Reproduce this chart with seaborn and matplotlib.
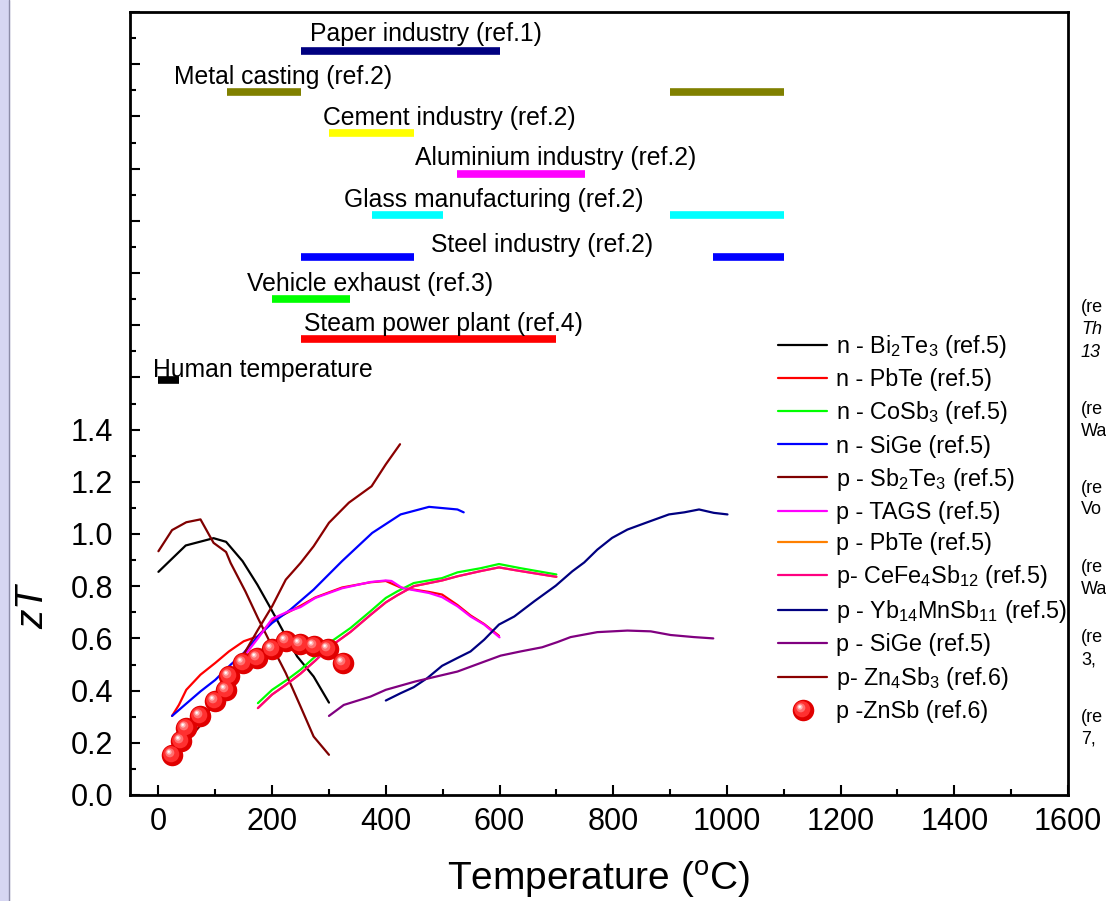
import numpy as np
import pandas as pd
import matplotlib
matplotlib.use("Agg")
import matplotlib.pyplot as plt
import seaborn as sns
from matplotlib.path import Path
from matplotlib.markers import MarkerStyle
from matplotlib.lines import Line2D
from matplotlib.legend_handler import HandlerTuple
from matplotlib.ticker import MultipleLocator, FuncFormatter

# ---------------- data ----------------
bi2te3_T = [0, 48, 97, 119, 148, 174, 197, 221, 244, 273, 300]
bi2te3_zT = [0.855, 0.956, 0.984, 0.970, 0.896, 0.806, 0.717, 0.621, 0.531, 0.454, 0.354]

npbte_T = [24, 36, 49, 74, 100, 124, 150, 175, 200, 250, 276, 323, 373, 400, 426, 476, 499, 526, 549, 573, 599]
npbte_zT = [0.303, 0.345, 0.403, 0.461, 0.506, 0.550, 0.589, 0.608, 0.668, 0.725, 0.757, 0.795, 0.815, 0.820,
            0.795, 0.778, 0.768, 0.728, 0.688, 0.655, 0.610]

cosb3_T = [175, 200, 226, 250, 276, 300, 338, 373, 400, 420, 449, 499, 526, 567, 599, 637, 700]
cosb3_zT = [0.352, 0.403, 0.441, 0.480, 0.531, 0.582, 0.640, 0.704, 0.755, 0.780, 0.812, 0.831, 0.853, 0.869,
            0.885, 0.869, 0.845]

nsige_T = [24, 50, 74, 100, 127, 150, 175, 200, 232, 273, 323, 376, 426, 476, 526, 537]
nsige_zT = [0.303, 0.352, 0.397, 0.441, 0.499, 0.544, 0.608, 0.659, 0.710, 0.787, 0.896, 1.004, 1.075, 1.104,
            1.094, 1.083]

sb2te3_T = [0, 24, 49, 74, 97, 119, 127, 153, 175, 197, 224, 250, 273, 300]
sb2te3_zT = [0.934, 1.015, 1.045, 1.056, 0.966, 0.931, 0.889, 0.780, 0.678, 0.582, 0.467, 0.339, 0.224, 0.154]

tags_T = [150, 175, 200, 225, 250, 276, 323, 373, 400, 410, 429, 476, 499, 526, 549, 573, 600]
tags_zT = [0.530, 0.600, 0.675, 0.700, 0.720, 0.755, 0.792, 0.816, 0.822, 0.820, 0.793, 0.774, 0.758, 0.723,
           0.684, 0.653, 0.604]

ppbte_T = [175, 200, 226, 250, 276, 300, 338, 373, 400, 420, 449, 499, 526, 567, 599, 637, 700]
ppbte_zT = [0.333, 0.385, 0.425, 0.465, 0.515, 0.565, 0.625, 0.690, 0.738, 0.765, 0.800, 0.822, 0.838, 0.858,
            0.872, 0.858, 0.836]

cefe_T = [175, 200, 226, 250, 276, 300, 338, 373, 400, 420, 449, 499, 526, 567, 599, 637, 700]
cefe_zT = [0.333, 0.385, 0.425, 0.465, 0.515, 0.565, 0.625, 0.690, 0.738, 0.765, 0.800, 0.822, 0.838, 0.858,
           0.872, 0.858, 0.836]

yb_T = [400, 426, 449, 473, 499, 526, 549, 573, 599, 626, 661, 699, 728, 749, 772, 798, 825, 860, 898, 925,
        951, 977, 1001]
yb_zT = [0.362, 0.390, 0.413, 0.448, 0.495, 0.525, 0.550, 0.595, 0.653, 0.684, 0.742, 0.802, 0.857, 0.891,
         0.940, 0.985, 1.017, 1.045, 1.075, 1.083, 1.094, 1.081, 1.075]

psige_T = [300, 326, 373, 400, 452, 526, 567, 602, 637, 675, 702, 725, 772, 825, 866, 901, 942, 976]
psige_zT = [0.303, 0.345, 0.377, 0.403, 0.435, 0.473, 0.506, 0.534, 0.550, 0.566, 0.586, 0.605, 0.624, 0.630,
            0.627, 0.613, 0.605, 0.600]

zn4sb3_T = [50, 77, 100, 127, 153, 175, 200, 224, 250, 273, 300, 335, 375, 400, 425]
zn4sb3_zT = [0.205, 0.275, 0.370, 0.467, 0.550, 0.633, 0.723, 0.825, 0.889, 0.953, 1.043, 1.120, 1.183, 1.267,
             1.344]

znsb_T = [24, 39, 49, 74, 99, 119, 124, 149, 174, 199, 224, 249, 273, 299, 324]
znsb_zT = [0.154, 0.207, 0.256, 0.304, 0.362, 0.403, 0.457, 0.506, 0.525, 0.559, 0.589, 0.580, 0.569, 0.559,
           0.506]

series_labels = [r"n - Bi$_2$Te$_3$ (ref.5)", "n - PbTe (ref.5)", r"n - CoSb$_3$ (ref.5)", "n - SiGe (ref.5)",
                 r"p - Sb$_2$Te$_3$ (ref.5)", "p - TAGS (ref.5)", "p - PbTe (ref.5)",
                 r"p- CeFe$_4$Sb$_{12}$ (ref.5)", r"p - Yb$_{14}$MnSb$_{11}$ (ref.5)", "p - SiGe (ref.5)",
                 r"p- Zn$_4$Sb$_3$ (ref.6)"]
ball_label = "p -ZnSb (ref.6)"

# waste heat ranges
source_names = ["Paper industry (ref.1)", "Metal casting (ref.2)", "Cement industry (ref.2)",
                "Aluminium industry (ref.2)", "Glass manufacturing (ref.2)", "Steel industry (ref.2)",
                "Vehicle exhaust (ref.3)", "Steam power plant (ref.4)", "Human temperature"]
source_colors = ["#000080", "#808000", "#FFFF00", "#FF00FF", "#00FFFF", "#0000FF", "#00FF00", "#FF0000",
                 "#000000"]
source_level = [2.852, 2.695, 2.537, 2.380, 2.222, 2.061, 1.900, 1.747, 1.589]
source_label_level = [2.915, 2.752, 2.593, 2.439, 2.278, 2.109, 1.959, 1.806, 1.630]
source_label_x = [470, 220, 512, 699, 590, 674, 372, 502, -10]
range1_start = [250, 121, 300, 526, 375, 250, 200, 250, 0]
range1_end = [600, 250, 450, 750, 500, 450, 337, 700, 37]
range2_start = [None, 900, None, None, 900, 975, None, None, None]
range2_end = [None, 1100, None, None, 1100, 1100, None, None, None]

# ---------------- style ----------------
sns.set_style("ticks")
plt.rcParams["font.family"] = ["Liberation Sans", "DejaVu Sans"]
plt.rcParams["mathtext.fontset"] = "custom"
plt.rcParams["mathtext.rm"] = "Liberation Sans"
plt.rcParams["mathtext.it"] = "Liberation Sans:italic"
plt.rcParams["mathtext.bf"] = "Liberation Sans:bold"
for key in ["text.color", "axes.labelcolor", "xtick.color", "ytick.color", "axes.edgecolor"]:
    plt.rcParams[key] = "black"

fig = plt.figure(figsize=(11.06, 9.01), dpi=100)
ax = fig.add_axes([130 / 1106, 1 - 795 / 901, (1068 - 130) / 1106, (795 - 12) / 901])

colors = ["#000000", "#FF0000", "#00FF00", "#0000FF", "#7F0000", "#FF00FF", "#FF8000", "#FF0080",
          "#000080", "#800080", "#8B0000"]
xs = [bi2te3_T, npbte_T, cosb3_T, nsige_T, sb2te3_T, tags_T, ppbte_T, cefe_T, yb_T, psige_T, zn4sb3_T]
ys = [bi2te3_zT, npbte_zT, cosb3_zT, nsige_zT, sb2te3_zT, tags_zT, ppbte_zT, cefe_zT, yb_zT, psige_zT, zn4sb3_zT]
draw_order = [0, 1, 2, 3, 4, 6, 5, 7, 8, 9, 10]
handles = {}
for i in draw_order:
    df = pd.DataFrame({"T": xs[i], "zT": ys[i]})
    sns.lineplot(data=df, x="T", y="zT", ax=ax, color=colors[i], lw=1.6, sort=False,
                 estimator=None, label=series_labels[i])
    handles[i] = ax.get_lines()[-1]

# range bars
for k in range(len(source_names)):
    col = source_colors[k]
    ax.plot([range1_start[k], range1_end[k]], [source_level[k]] * 2, color=col, lw=5.5,
            solid_capstyle="butt")
    if range2_start[k] is not None:
        ax.plot([range2_start[k], range2_end[k]], [source_level[k]] * 2, color=col, lw=5.5,
                solid_capstyle="butt")
    ha = "left" if k == len(source_names) - 1 else "center"
    ax.text(source_label_x[k], source_label_level[k], source_names[k], ha=ha, va="center",
            fontsize=17.8, color="black")


# ZnSb balls with highlight
def spot_marker(off, rad):
    circ = Path.circle(center=(-off, off), radius=rad)
    return MarkerStyle(circ), off + rad


ms = 15.5
ball_layers = [("#E00000", 0.0, 1.0), ("#FF3030", 0.12, 0.75), ("#FF7070", 0.25, 0.42),
               ("#FFB8B8", 0.32, 0.24), ("#FFFFFF", 0.35, 0.11)]
ball_handles = []
for col, off, rad in ball_layers:
    if off == 0.0:
        h, = ax.plot(znsb_T, znsb_zT, ls="none", marker="o", ms=ms, mfc=col, mec="none", zorder=5)
    else:
        mk, scale = spot_marker(off, rad)
        h, = ax.plot(znsb_T, znsb_zT, ls="none", marker=mk, ms=ms * scale, mfc=col, mec="none", zorder=5)
    ball_handles.append(h)

# ---------------- axes ----------------
ax.set_xlim(-50, 1600)
ax.set_ylim(0, 3.0)
ax.xaxis.set_major_locator(MultipleLocator(200))
ax.xaxis.set_minor_locator(MultipleLocator(100))
ax.yaxis.set_major_locator(MultipleLocator(0.2))
ax.yaxis.set_minor_locator(MultipleLocator(0.1))
ax.yaxis.set_major_formatter(FuncFormatter(lambda v, p: f"{v:.1f}" if v < 1.45 else ""))
ax.tick_params(axis="both", which="major", direction="in", length=7, width=1.5, labelsize=22,
               top=False, right=False, colors="black")
ax.tick_params(axis="both", which="minor", direction="in", length=4, width=1.5, top=False, right=False,
               colors="black")
ax.tick_params(axis="y", which="major", pad=12)
ax.tick_params(axis="x", which="major", pad=9)
for s in ax.spines.values():
    s.set_linewidth(2.0)
    s.set_visible(True)
    s.set_color("black")

ax.set_xlabel(r"Temperature ($^{\rm o}$C)", fontsize=28, color="black")
ax.set_ylabel(r"$zT$", fontsize=28, color="black")
ax.xaxis.set_label_coords(0.5, -0.082)
ax.yaxis.set_label_coords(-0.084, 0.243)

# legend
leg_handles = [handles[i] for i in range(11)] + [tuple(ball_handles)]
leg_labels = series_labels + [ball_label]
leg = ax.legend(leg_handles, leg_labels, handler_map={tuple: HandlerTuple(ndivide=1)},
                loc="upper left", bbox_to_anchor=(778 / 1106, 1 - 333 / 901), bbox_transform=fig.transFigure,
                frameon=False, fontsize=16.8, handlelength=2.1, handletextpad=0.4, borderpad=0,
                borderaxespad=0, labelspacing=0.35, numpoints=1)
for t in leg.get_texts():
    t.set_color("black")

# decorations from the surrounding document
fig.patches.append(plt.Rectangle((0, 0), 9 / 1106, 1, transform=fig.transFigure, color="#D6D6F2", zorder=0))
fig.add_artist(Line2D([9 / 1106, 9 / 1106], [0, 1], transform=fig.transFigure, color="#8C8CA8", lw=1))

side = [("(re", "normal", 307), ("Th", "italic", 330), ("13", "italic", 352),
        ("(re", "normal", 409), ("Wa", "normal", 432),
        ("(re", "normal", 488), ("Vo", "normal", 510),
        ("(re", "normal", 567), ("Wa", "normal", 589),
        ("(re", "normal", 637), ("3,", "normal", 660),
        ("(re", "normal", 717), ("7,", "normal", 739)]
for txt, sty, yp in side:
    fig.text(1081 / 1106, 1 - yp / 901, txt, fontsize=13, style=sty, ha="left", va="center", color="black")

fig.savefig("out.png", dpi=100)
